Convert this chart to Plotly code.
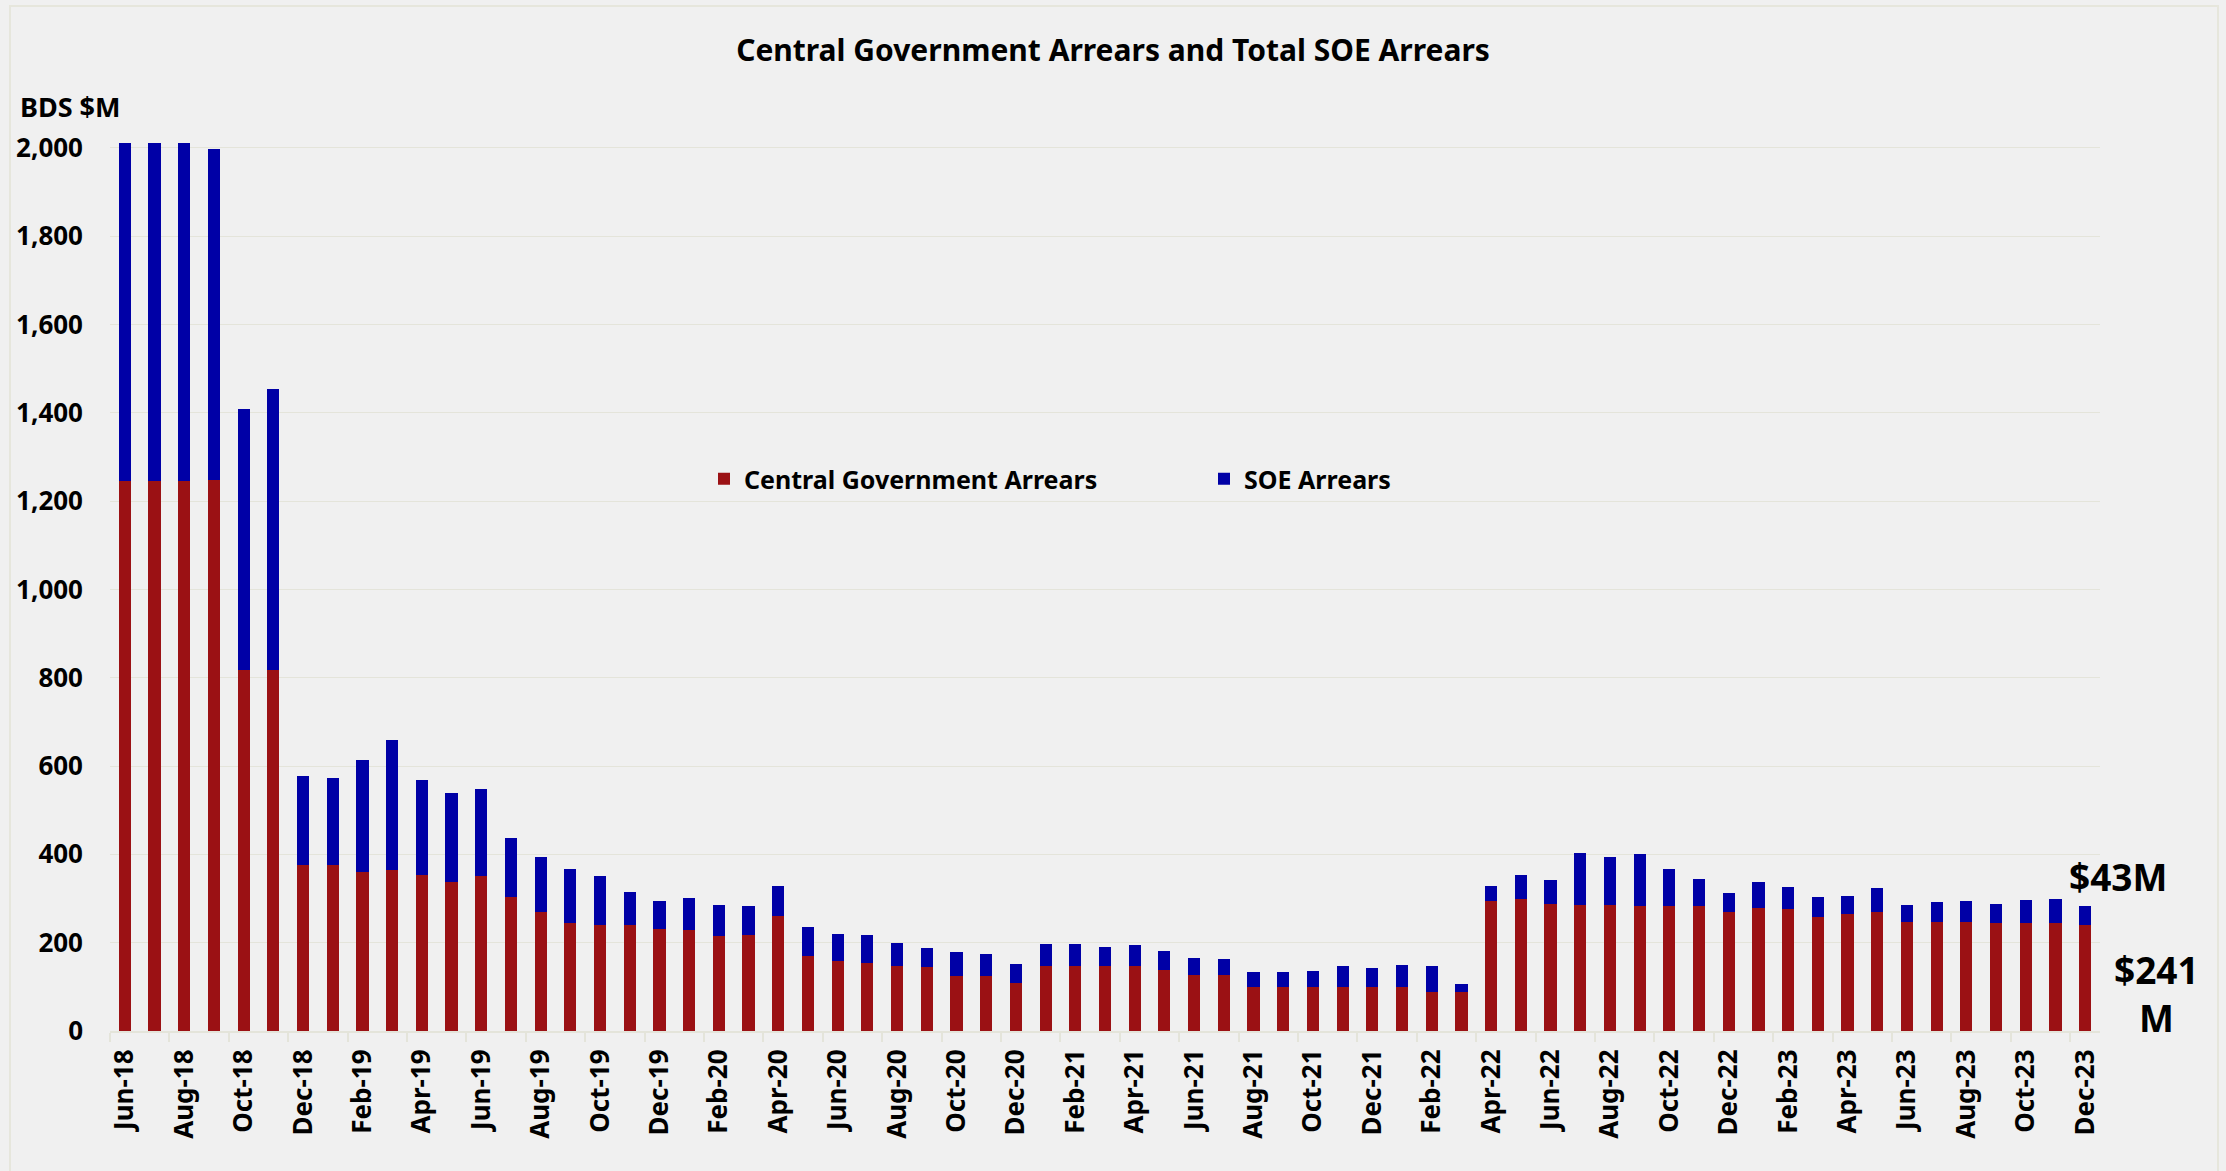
import plotly.graph_objects as go

months = [
    "Jun-18", "Jul-18", "Aug-18", "Sep-18", "Oct-18", "Nov-18", "Dec-18",
    "Jan-19", "Feb-19", "Mar-19", "Apr-19", "May-19", "Jun-19", "Jul-19", "Aug-19", "Sep-19", "Oct-19", "Nov-19", "Dec-19",
    "Jan-20", "Feb-20", "Mar-20", "Apr-20", "May-20", "Jun-20", "Jul-20", "Aug-20", "Sep-20", "Oct-20", "Nov-20", "Dec-20",
    "Jan-21", "Feb-21", "Mar-21", "Apr-21", "May-21", "Jun-21", "Jul-21", "Aug-21", "Sep-21", "Oct-21", "Nov-21", "Dec-21",
    "Jan-22", "Feb-22", "Mar-22", "Apr-22", "May-22", "Jun-22", "Jul-22", "Aug-22", "Sep-22", "Oct-22", "Nov-22", "Dec-22",
    "Jan-23", "Feb-23", "Mar-23", "Apr-23", "May-23", "Jun-23", "Jul-23", "Aug-23", "Sep-23", "Oct-23", "Nov-23", "Dec-23",
]

central_gov = [
    1245, 1245, 1245, 1247, 817, 818, 375,
    375, 359, 365, 353, 337, 352, 303, 269, 245, 241, 240, 232,
    229, 216, 218, 261, 169, 158, 155, 148, 146, 125, 125, 109,
    148, 148, 148, 148, 139, 127, 127, 100, 100, 100, 100, 100,
    100, 88, 88, 295, 298, 288, 285, 285, 284, 284, 284, 269,
    278, 276, 258, 266, 269, 247, 247, 247, 244, 244, 244, 241,
]

soe = [
    765, 765, 765, 750, 591, 636, 203,
    198, 255, 295, 216, 201, 197, 133, 126, 123, 111, 75, 63,
    73, 70, 66, 67, 66, 62, 63, 52, 41, 55, 50, 43,
    50, 49, 43, 47, 43, 39, 37, 34, 33, 37, 47, 43,
    49, 60, 19, 34, 55, 53, 118, 110, 117, 83, 60, 44,
    59, 51, 45, 40, 55, 38, 45, 47, 43, 53, 56, 43,
]

y_ticks = [0, 200, 400, 600, 800, 1000, 1200, 1400, 1600, 1800, 2000]

RED = "#9B1114"
BLUE = "#0000A6"
BG = "#F0F0F0"
GRID = "#E4E4DA"
FONT = "Noto Sans"

W, H = 2226, 1171
L, R, T, B = 110, 126, 139, 140
PW, PH = W - L - R, H - T - B

def px_x(x):
    return (x - L) / PW

def px_y(y):
    return (H - B - y) / PH

fig = go.Figure()
fig.add_trace(go.Bar(x=months, y=central_gov, name="Central Government Arrears",
                     marker=dict(color=RED, line=dict(width=0))))
fig.add_trace(go.Bar(x=months, y=soe, name="SOE Arrears",
                     marker=dict(color=BLUE, line=dict(width=0))))

fig.update_layout(
    barmode="stack",
    bargap=0.59,
    width=W, height=H,
    paper_bgcolor=BG, plot_bgcolor=BG,
    margin=dict(l=L, r=R, t=T, b=B),
    font=dict(family=FONT, color="#000000", weight="bold"),
    title=dict(text="Central Government Arrears and Total SOE Arrears",
               x=0.5, xanchor="center", y=1 - 50 / H, yanchor="middle",
               font=dict(family=FONT, size=30, weight="bold", color="#000000")),
    showlegend=True,
    legend=dict(orientation="h", x=px_x(704), xanchor="left", y=px_y(479), yanchor="middle",
                bgcolor="rgba(0,0,0,0)", font=dict(family=FONT, size=25, weight="bold"),
                entrywidth=455, entrywidthmode="pixels", traceorder="normal"),
    xaxis=dict(type="category", tickmode="linear", tick0=0, dtick=2,
               tickangle=-90, tickfont=dict(family=FONT, size=26, weight="bold"),
               showgrid=False, showline=True, linecolor=GRID, linewidth=2,
               ticks="outside", tickson="boundaries", ticklen=9, tickcolor=GRID, tickwidth=2,
               ticklabelstandoff=6),
    yaxis=dict(range=[0, 2020], tickmode="array", tickvals=y_ticks,
               tickformat=",d", tickfont=dict(family=FONT, size=26, weight="bold"),
               showgrid=True, gridcolor=GRID, gridwidth=1, zeroline=False,
               showline=False, ticks="", ticklabelstandoff=26),
)

# faint chart-area frame
fig.add_shape(type="rect", xref="paper", yref="paper",
              x0=px_x(10), x1=px_x(2218), y0=px_y(1190), y1=px_y(6),
              line=dict(color="#E6E6DC", width=2), fillcolor="rgba(0,0,0,0)", layer="below")

fig.add_annotation(text="BDS $M", xref="paper", yref="paper",
                   x=px_x(18), xanchor="left", y=px_y(107), yanchor="middle",
                   showarrow=False, font=dict(family=FONT, size=27, weight="bold"))
fig.add_annotation(text="$43M", xref="paper", yref="paper",
                   x=px_x(2118), xanchor="center", y=px_y(876), yanchor="middle",
                   showarrow=False, font=dict(family=FONT, size=37, weight="bold"))
fig.add_annotation(text="$241<br>M", xref="paper", yref="paper",
                   x=px_x(2156), xanchor="center", y=px_y(993), yanchor="middle",
                   showarrow=False, font=dict(family=FONT, size=37, weight="bold"))

fig.write_html("out.html", config={"displayModeBar": False},
               post_script="document.body.style.margin='0';document.body.style.background='#F0F0F0';")
